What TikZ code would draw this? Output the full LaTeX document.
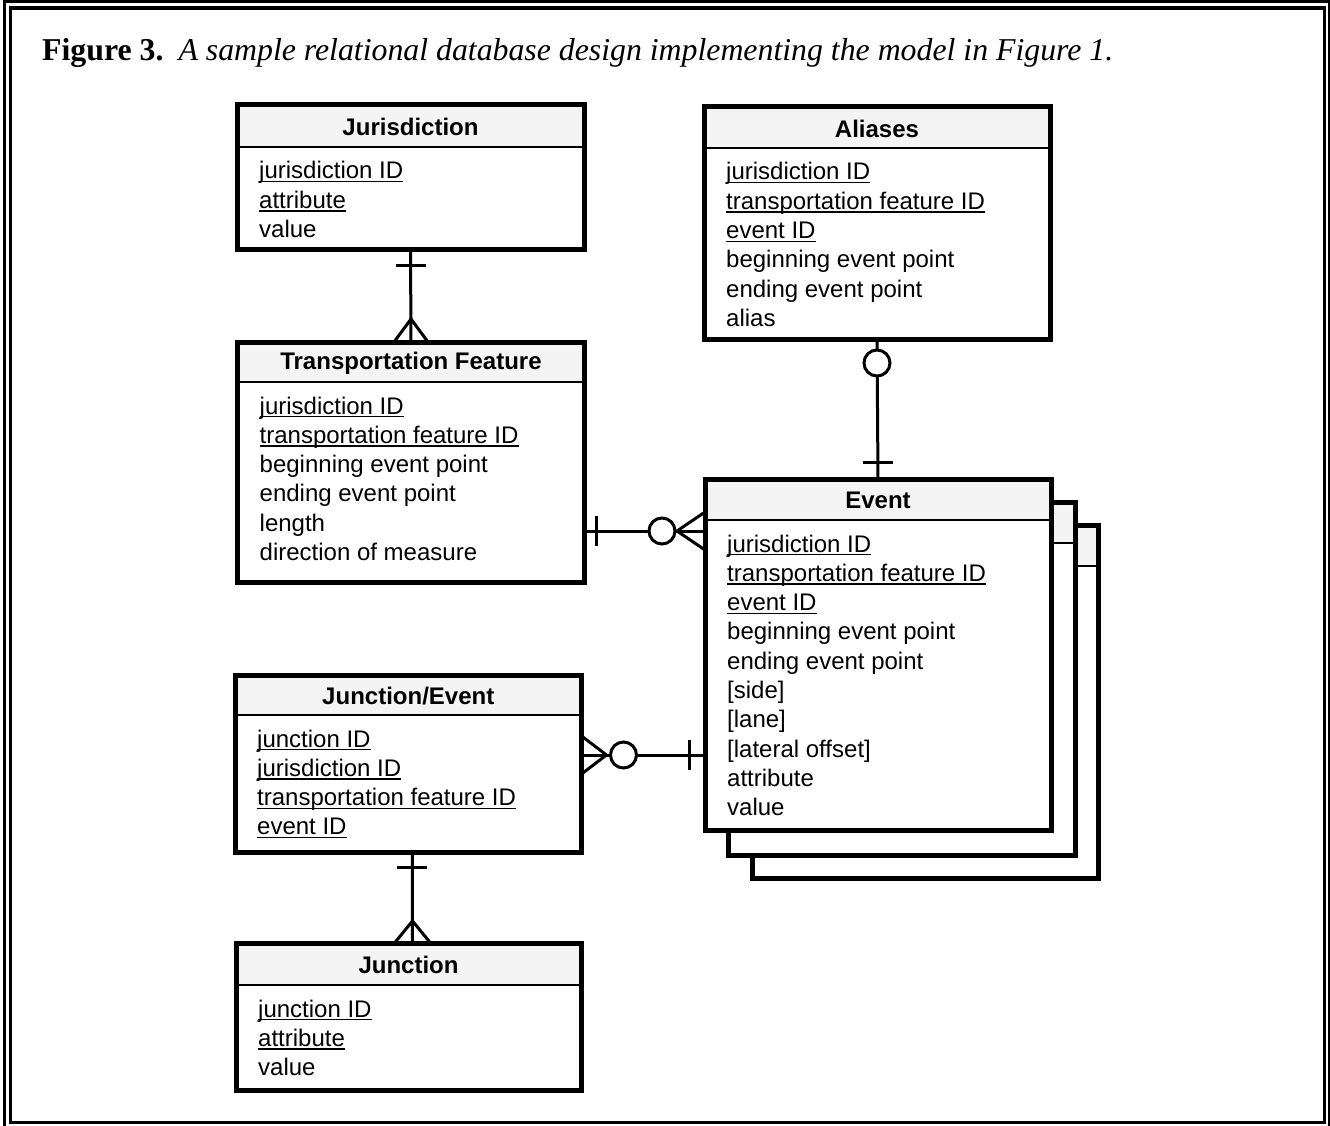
\documentclass[tikz,border=0pt]{standalone}
\usepackage{fontspec}
\setmainfont{Liberation Serif}
\newfontfamily\arialf{Liberation Sans}
\usetikzlibrary{calc}
\definecolor{hdrgray}{HTML}{F4F4F4}
\newcommand\ul[1]{\setbox0=\hbox{#1}\rlap{\rule[-3.2pt]{\wd0}{1.3pt}}\box0}
\tikzset{
  boxline/.style={draw, line width=5pt, line join=miter},
  boxnode/.style={fill=white, inner sep=0pt, outer sep=0pt, anchor=north west},
  divline/.style={line width=2.6pt},
  hdrtext/.style={font=\arialf\bfseries\fontsize{24}{29}\selectfont, inner sep=0pt},
  attrtext/.style={font=\arialf\fontsize{24}{29}\selectfont, inner sep=0pt, anchor=base west},
  conn/.style={line width=3pt},
  ring/.style={draw, line width=3pt, fill=white, circle, minimum size=26pt, inner sep=0pt},
}
% name, x, y, w, h, header height, title, attribute list
\newcommand\ERbox[8]{%
  \node[boxnode, minimum width=#4pt, minimum height=#5pt] (#1) at (#2,#3) {};
  \fill[hdrgray] (#1.north west) rectangle ($(#1.north east)+(0,#6)$);
  \draw[divline] ($(#1.north west)+(0,#6)$) -- ($(#1.north east)+(0,#6)$);
  \draw[boxline] (#1.north west) rectangle (#1.south east);
  \node[hdrtext] (#1-title) at ($(#1.north)+(0,#6/2+1)$) {#7};
  \foreach \t [count=\i] in {#8} {
    \node[attrtext] (#1-\i) at ($(#1.north west)+(22,#6+32+29.33*\i-29.33)$) {\t};
  }
}
\begin{document}
\begin{tikzpicture}[x=1pt,y=-1pt]
\useasboundingbox (0,0) rectangle (1330,1126);
% page frame
\draw[line width=3pt] (4.7,1.7) rectangle (1329,1128);
\draw[line width=3.6pt] (10.3,8.2) rectangle (1324.3,1122.6);
% title
\node[anchor=base west, inner sep=0pt] (title) at (42,61)
  {\fontsize{31.8}{32}\selectfont\textbf{Figure 3.}\hspace{15pt}\textit{A sample relational database design implementing the model in Figure 1.}};

% boxes
\ERbox{jur}{237}{105}{347}{144}{42}{Jurisdiction}{\ul{jurisdiction ID},\ul{attribute},value}
\ERbox{tf}{237.5}{342}{347}{240}{40}{Transportation Feature}{\ul{jurisdiction ID},\ul{transportation feature ID},beginning event point,ending event point,length,direction of measure}
\ERbox{al}{704}{107}{346}{232}{41}{Aliases}{\ul{jurisdiction ID},\ul{transportation feature ID},\ul{event ID},beginning event point,ending event point,alias}
% stacked event copies
\ERbox{ev3}{752}{525}{346}{353}{41}{}{}
\ERbox{ev2}{728}{502}{347}{353}{41}{}{}
\ERbox{ev}{705}{479}{346}{351}{41}{Event}{\ul{jurisdiction ID},\ul{transportation feature ID},\ul{event ID},beginning event point,ending event point,{[side]},{[lane]},{[lateral offset]},attribute,value}
\ERbox{je}{235}{675}{346.5}{177}{40}{Junction/Event}{\ul{junction ID},\ul{jurisdiction ID},\ul{transportation feature ID},\ul{event ID}}
\ERbox{jn}{236}{943}{345}{147}{42}{Junction}{\ul{junction ID},\ul{attribute},value}

% Jurisdiction -- Transportation Feature
\draw[conn] (jur.south) -- (tf.north);
\draw[conn] ($(jur.south)+(-15,16)$) -- ($(jur.south)+(15,16)$);
\draw[conn] ($(tf.north)+(-17,0)$) -- ($(tf.north)+(0,-23)$) -- ($(tf.north)+(17,0)$);

% Aliases -- Event
\draw[conn] (al.south) -- (ev.north);
\node[ring] (r1) at ($(al.south)+(0,24)$) {};
\draw[conn] ($(ev.north)+(-15,-17)$) -- ($(ev.north)+(15,-17)$);

% Transportation Feature -- Event
\coordinate (c1) at ($(ev.north west)+(0,52)$);
\draw[conn] (c1 -| tf.east) -- (c1);
\draw[conn] ($(c1 -| tf.east)+(12,-15)$) -- ($(c1 -| tf.east)+(12,15)$);
\node[ring] (r2) at ($(c1)+(-43,0)$) {};
\draw[conn] ($(c1)+(0,-19)$) -- ($(c1)+(-28,0)$) -- ($(c1)+(0,19)$);

% Junction/Event -- Event
\coordinate (c2) at ($(je.north east)+(0,80)$);
\draw[conn] (c2) -- (c2 -| ev.west);
\draw[conn] ($(c2)+(0,-19)$) -- ($(c2)+(25,0)$) -- ($(c2)+(0,19)$);
\node[ring] (r3) at ($(c2)+(42,0)$) {};
\draw[conn] ($(c2 -| ev.west)+(-16,-15)$) -- ($(c2 -| ev.west)+(-16,15)$);

% Junction/Event -- Junction
\draw[conn] ($(je.south)+(4,0)$) -- ($(jn.north)+(4,0)$);
\draw[conn] ($(je.south)+(-11,15)$) -- ($(je.south)+(19,15)$);
\draw[conn] ($(jn.north)+(-14,0)$) -- ($(jn.north)+(4,-22)$) -- ($(jn.north)+(22,0)$);
\end{tikzpicture}
\end{document}
